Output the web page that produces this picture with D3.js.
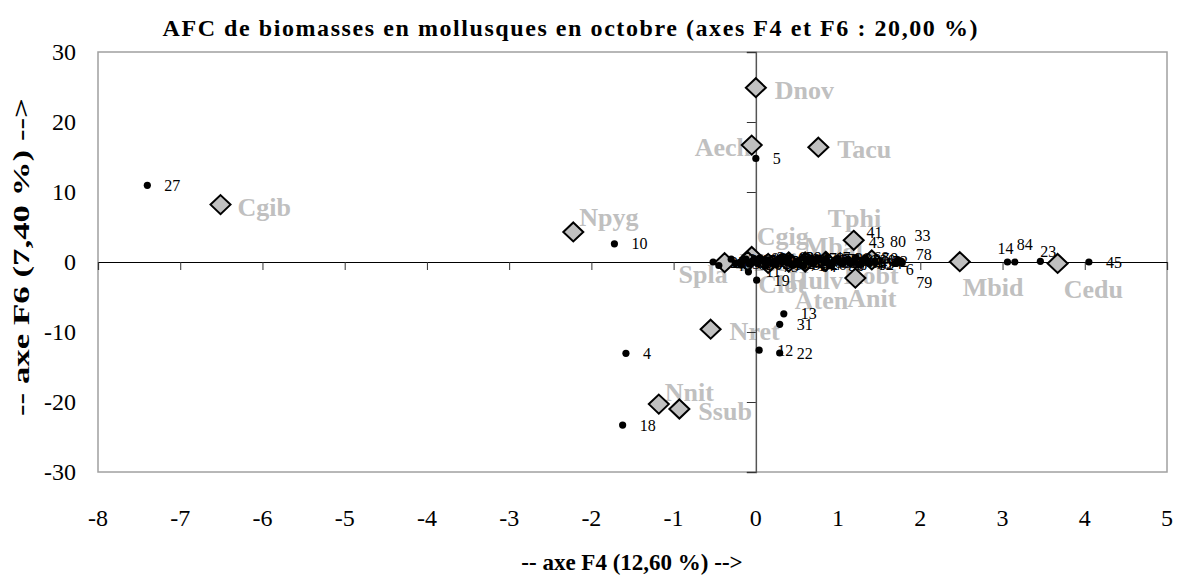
<!DOCTYPE html>
<html>
<head>
<meta charset="utf-8">
<script src="https://cdn.jsdelivr.net/npm/d3@7"></script>
<style>
  html, body { margin: 0; padding: 0; background: #ffffff; }
  svg { display: block; }
  text { font-family: "Liberation Serif", "Times New Roman", serif; }
</style>
</head>
<body>
<svg id="chart" width="1182" height="576"></svg>
<script>
// ---------- data ----------
const chartTitle = "AFC de biomasses en mollusques en octobre (axes F4 et F6 : 20,00 %)";
const xAxisTitle = "-- axe F4 (12,60 %) -->";
const yAxisTitle = "-- axe F6 (7,40 %) -->";
const xTicks = [-8, -7, -6, -5, -4, -3, -2, -1, 0, 1, 2, 3, 4, 5];
const yTicks = [-30, -20, -10, 0, 10, 20, 30];

// species (column points, diamonds)
const speciesNames = ["Dnov", "Aech", "Tacu", "Cgib", "Npyg", "Cgig", "Tphi", "Mbal", "Medi", "Spla",
                      "Hulv", "Robt", "Clot", "Aten", "Anit", "Mbid", "Cedu", "Nret", "Nnit", "Ssub"];
const speciesF4 = [0.00, -0.05, 0.76, -6.51, -2.22, -0.05, 1.19, 0.85, -0.10, -0.38,
                   0.60, 1.41, 0.15, 0.40, 1.21, 2.48, 3.67, -0.55, -1.18, -0.93];
const speciesF6 = [24.9, 16.7, 16.4, 8.2, 4.3, 0.8, 3.1, 0.1, 0.1, -0.1,
                   0.0, 0.3, -0.2, 0.0, -2.3, 0.05, -0.2, -9.6, -20.3, -21.0];

// stations (row points, small dots)
const stationIds = ["27", "5", "10", "4", "18", "11", "19", "13", "31", "12", "22", "14", "84", "23", "45",
                    "80", "33", "78", "6", "79", "41", "43",
                    "1", "2", "3", "7", "8", "9", "15", "16", "17", "20", "21", "24", "25", "26", "28", "29",
                    "30", "32", "34", "35", "36", "37", "38", "39", "40", "42", "44", "46", "47", "48", "49",
                    "50", "51", "52", "53", "54", "55", "56", "57", "58", "59", "60", "61", "62", "63", "64",
                    "65", "66", "67", "68", "69", "70", "71", "72", "73", "74", "75", "76", "77", "81", "82", "83"];
const stationF4 = [-7.40, 0.00, -1.72, -1.58, -1.62, -0.09, 0.01, 0.34, 0.29, 0.04, 0.29, 3.06, 3.15, 3.46, 4.05,
                   1.73, 1.77, 1.75, 1.70, 1.78, 1.20, 1.35,
                   0.15, 0.42, -0.30, 0.95, 1.05, 0.60, -0.15, 0.25, 0.80, 1.30, 0.05, 0.50, -0.52, 0.70, 1.12, 0.33,
                   -0.08, 0.88, 1.38, 0.18, 0.65, -0.25, 1.00, 0.40, 1.25, 0.10, 0.55, -0.45, 0.75, 1.18, 0.28,
                   0.92, -0.05, 1.45, 0.48, 0.62, -0.20, 1.08, 0.22, 0.85, 1.33, 0.38, -0.12, 0.02, 0.31, 0.58,
                   0.72, 0.97, 1.15, 1.22, -0.18, 0.08, 0.45, 0.68, 0.90, 1.02, 0.12, 0.36, 0.52, 0.83, 1.28, -0.02];
const stationF6 = [10.96, 14.8, 2.6, -13.05, -23.3, -1.4, -2.6, -7.4, -8.9, -12.6, -13.0, 0.0, 0.0, 0.1, 0.0,
                   0.3, 0.1, 0.0, -0.2, -0.1, 0.3, 0.2,
                   0.3, -0.2, 0.4, 0.1, -0.3, 0.5, 0.2, -0.4, 0.3, 0.2, 0.6, 0.1, 0.0, -0.3, 0.4, 0.2,
                   -0.3, -0.1, -0.2, -0.1, 0.0, -0.2, 0.5, 0.6, -0.4, 0.0, -0.5, -0.5, 0.6, 0.0, 0.5,
                   -0.5, 0.1, 0.1, -0.3, 0.3, -0.1, 0.2, 0.1, 0.4, 0.5, -0.1, 0.4, -0.2, 0.7, -0.6,
                   0.2, 0.3, -0.2, 0.6, -0.4, 0.3, -0.5, 0.5, -0.3, 0.0, -0.6, 0.3, 0.2, -0.1, -0.3, 0.5];

// ---------- label placement (pixel nudges, not data) ----------
const speciesLabelNudge = {
  Dnov: [19, 3], Aech: [-57, 2], Tacu: [19, 2], Cgib: [17, 3], Npyg: [6, -14], Cgig: [5, -20],
  Tphi: [-26, -22], Mbal: [-22, -15], Medi: [-8, 1], Spla: [-46, 12], Hulv: [-17, 18], Robt: [-28, 16],
  Clot: [-10, 21], Aten: [6, 38], Anit: [-8, 20], Mbid: [3, 26], Cedu: [6, 26], Nret: [19, 2],
  Nnit: [6, -12], Ssub: [19, 2]
};
const stationLabelNudge = {
  "14": [-10, -14], "84": [2, -18], "23": [0, -10], "80": [-8, -18], "33": [13, -26],
  "78": [16, -8], "6": [10, 6], "79": [14, 20], "41": [12, -27], "43": [2, -18], "12": [18, 0]
};

// ---------- layout ----------
const plot = { left: 98, right: 1167, top: 52, bottom: 472 };

const svg = d3.select("#chart");
const x = d3.scaleLinear().domain([-8, 5]).range([plot.left, plot.right]);
const y = d3.scaleLinear().domain([-30, 30]).range([plot.bottom, plot.top]);

// title
svg.append("text")
  .attr("x", 570).attr("y", 36)
  .attr("text-anchor", "middle")
  .attr("font-size", 24).attr("font-weight", "bold")
  .attr("textLength", 815).attr("lengthAdjust", "spacing")
  .attr("fill", "#000")
  .text(chartTitle);

// plot border
svg.append("rect")
  .attr("x", plot.left).attr("y", plot.top)
  .attr("width", plot.right - plot.left).attr("height", plot.bottom - plot.top)
  .attr("fill", "none").attr("stroke", "#a0a0a0").attr("stroke-width", 1.5);

// tick labels (outer)
svg.append("g").selectAll("text").data(yTicks).join("text")
  .attr("x", 76).attr("y", d => y(d))
  .attr("text-anchor", "end").attr("dominant-baseline", "central")
  .attr("font-size", 24).attr("fill", "#000")
  .text(d => d);

svg.append("g").selectAll("text").data(xTicks).join("text")
  .attr("x", d => x(d)).attr("y", 518)
  .attr("text-anchor", "middle").attr("dominant-baseline", "central")
  .attr("font-size", 24).attr("fill", "#000")
  .text(d => d);

// axis titles
svg.append("text")
  .attr("x", 632).attr("y", 562)
  .attr("text-anchor", "middle").attr("dominant-baseline", "central")
  .attr("font-size", 23).attr("font-weight", "bold")
  .text(xAxisTitle);

svg.append("text")
  .attr("transform", `translate(21, 257) rotate(-90)`)
  .attr("text-anchor", "middle").attr("dominant-baseline", "central")
  .attr("font-size", 24).attr("font-weight", "bold")
  .attr("textLength", 318).attr("lengthAdjust", "spacingAndGlyphs")
  .text(yAxisTitle);

const species = speciesNames.map((n, i) => ({ name: n, fx: speciesF4[i], fy: speciesF6[i] }));
const stations = stationIds.map((n, i) => ({ id: n, fx: stationF4[i], fy: stationF6[i] }));

// species labels (behind axes and markers)
svg.append("g").selectAll("text").data(species).join("text")
  .attr("x", d => x(d.fx) + (speciesLabelNudge[d.name] || [19, 0])[0])
  .attr("y", d => y(d.fy) + (speciesLabelNudge[d.name] || [19, 0])[1])
  .attr("dominant-baseline", "central")
  .attr("font-size", 26).attr("font-weight", "bold")
  .attr("fill", "#c0c0c0")
  .text(d => d.name);

// zero axes with ticks
const axisX = d3.axisBottom(x).tickValues(xTicks).tickSize(8).tickFormat("");
const gx = svg.append("g").attr("transform", `translate(0, ${y(0)})`).call(axisX);
gx.select(".domain").attr("stroke", "#000").attr("stroke-width", 1.2);
gx.selectAll(".tick line").attr("stroke", "#333").attr("stroke-width", 1);

const axisY = d3.axisLeft(y).tickValues(yTicks).tickSize(9).tickFormat("");
const gy = svg.append("g").attr("transform", `translate(${x(0)}, 0)`).call(axisY);
gy.select(".domain").attr("stroke", "#555").attr("stroke-width", 1.5);
gy.selectAll(".tick line").attr("stroke", "#333").attr("stroke-width", 1);

// species diamonds
svg.append("g").selectAll("path").data(species).join("path")
  .attr("d", d => {
    const cx = x(d.fx), cy = y(d.fy), hw = 10, hh = 9.5;
    return `M${cx},${cy - hh}L${cx + hw},${cy}L${cx},${cy + hh}L${cx - hw},${cy}Z`;
  })
  .attr("fill", "#c0c0c0").attr("stroke", "#000").attr("stroke-width", 2);

// station dots
svg.append("g").selectAll("circle").data(stations).join("circle")
  .attr("cx", d => x(d.fx)).attr("cy", d => y(d.fy))
  .attr("r", 3.6).attr("fill", "#000");

// station labels
svg.append("g").selectAll("text").data(stations).join("text")
  .attr("x", d => x(d.fx) + (stationLabelNudge[d.id] || [17, 0])[0])
  .attr("y", d => y(d.fy) + (stationLabelNudge[d.id] || [17, 0])[1])
  .attr("dominant-baseline", "central")
  .attr("font-size", 16).attr("fill", "#000")
  .text(d => d.id);
</script>
</body>
</html>
